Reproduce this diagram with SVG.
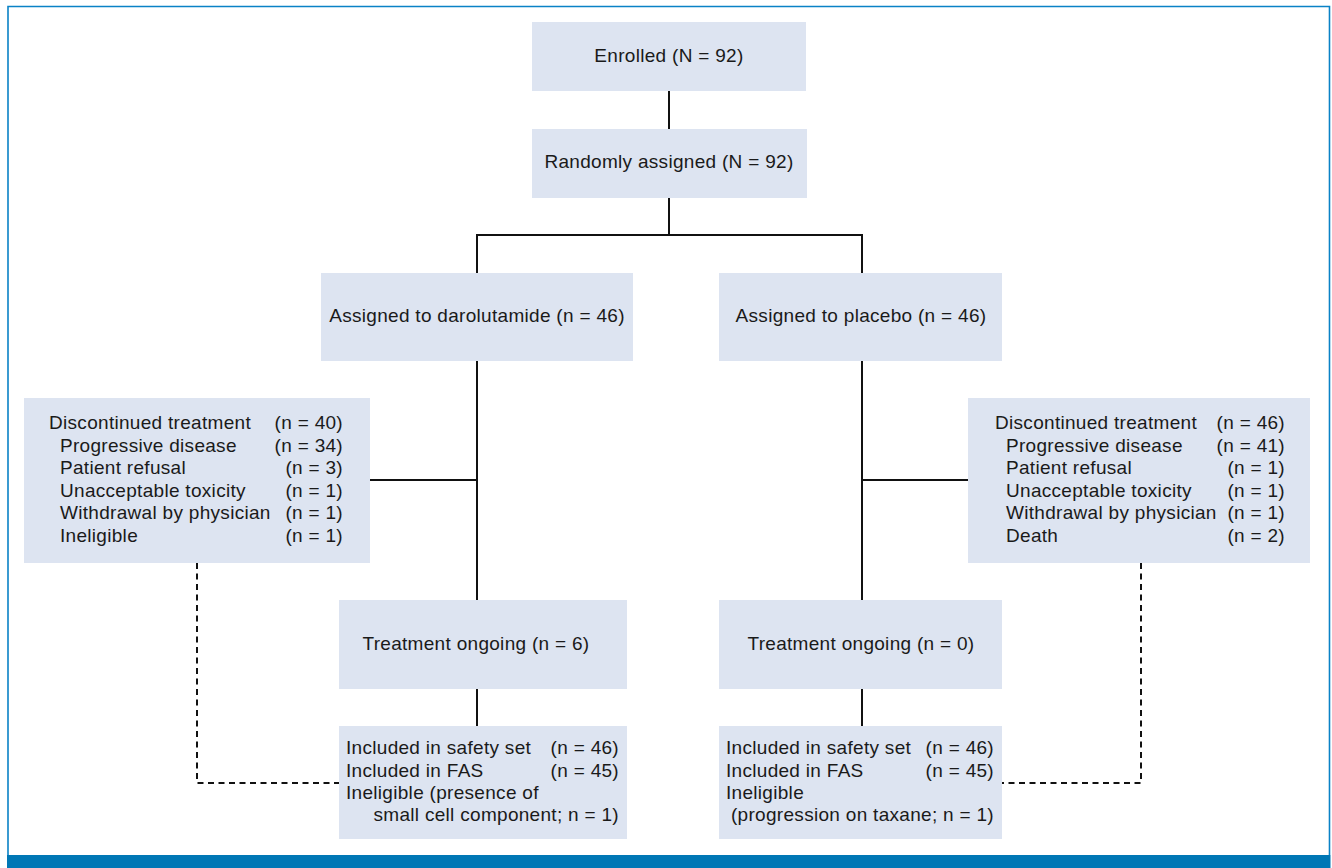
<svg xmlns="http://www.w3.org/2000/svg" width="1332" height="868" viewBox="0 0 1332 868">
<style>
.box{fill:#dde4f1}
.t{font-family:"Liberation Sans",Arial,sans-serif;font-size:19px;letter-spacing:0.3px;fill:#1a1a1a}
.c{text-anchor:middle}
.e{text-anchor:end}
.ln{stroke:#111;stroke-width:2;fill:none}
.dash{stroke:#111;stroke-width:2;fill:none;stroke-dasharray:6 4.5}
</style>
<rect width="1332" height="868" fill="#fff"/>
<g id="frame">
<path d="M8 855 V6.5 H1329.5 V855" fill="none" stroke="#0a82c6" stroke-width="1.6"/>
<rect x="7" y="855" width="1323.5" height="13" fill="#0077b5"/>
</g>
<g id="connectors">
<path class="ln" d="M669 91 V129 M669 198 V235 M477 273 V235 H862 V273 M477 361 V600 M862 361 V600 M370 480 H477 M862 480 H968 M477 689 V726 M862 689 V726"/>
<path class="dash" d="M197 563 V783 H339 M1141 563 V783 H1002"/>
</g>
<g id="enrolled">
<rect class="box" x="532" y="22" width="274" height="69"/>
<text class="t c" x="669" y="62">Enrolled (N = 92)</text>
</g>
<g id="randomized">
<rect class="box" x="532" y="129" width="275" height="69"/>
<text class="t c" x="669" y="168">Randomly assigned (N = 92)</text>
</g>
<g id="arm-darolutamide">
<rect class="box" x="321" y="273" width="312" height="88"/>
<text class="t c" x="477" y="322">Assigned to darolutamide (n = 46)</text>
</g>
<g id="arm-placebo">
<rect class="box" x="719" y="273" width="283" height="88"/>
<text class="t c" x="861" y="322">Assigned to placebo (n = 46)</text>
</g>
<g id="disc-darolutamide">
<rect class="box" x="24" y="398" width="346" height="165"/>
<text class="t" x="49" y="429">Discontinued treatment</text>
<text class="t" x="60" y="452">Progressive disease</text>
<text class="t" x="60" y="474">Patient refusal</text>
<text class="t" x="60" y="497">Unacceptable toxicity</text>
<text class="t" x="60" y="519">Withdrawal by physician</text>
<text class="t" x="60" y="542">Ineligible</text>
<text class="t e" x="343" y="429">(n = 40)</text>
<text class="t e" x="343" y="452">(n = 34)</text>
<text class="t e" x="343" y="474">(n = 3)</text>
<text class="t e" x="343" y="497">(n = 1)</text>
<text class="t e" x="343" y="519">(n = 1)</text>
<text class="t e" x="343" y="542">(n = 1)</text>
</g>
<g id="disc-placebo">
<rect class="box" x="968" y="398" width="342" height="165"/>
<text class="t" x="995" y="429">Discontinued treatment</text>
<text class="t" x="1006" y="452">Progressive disease</text>
<text class="t" x="1006" y="474">Patient refusal</text>
<text class="t" x="1006" y="497">Unacceptable toxicity</text>
<text class="t" x="1006" y="519">Withdrawal by physician</text>
<text class="t" x="1006" y="542">Death</text>
<text class="t e" x="1285" y="429">(n = 46)</text>
<text class="t e" x="1285" y="452">(n = 41)</text>
<text class="t e" x="1285" y="474">(n = 1)</text>
<text class="t e" x="1285" y="497">(n = 1)</text>
<text class="t e" x="1285" y="519">(n = 1)</text>
<text class="t e" x="1285" y="542">(n = 2)</text>
</g>
<g id="ongoing-darolutamide">
<rect class="box" x="339" y="600" width="288" height="89"/>
<text class="t c" x="476" y="650">Treatment ongoing (n = 6)</text>
</g>
<g id="ongoing-placebo">
<rect class="box" x="719" y="600" width="283" height="89"/>
<text class="t c" x="861" y="650">Treatment ongoing (n = 0)</text>
</g>
<g id="analysis-darolutamide">
<rect class="box" x="339" y="726" width="288" height="113"/>
<text class="t" x="346" y="754">Included in safety set</text>
<text class="t" x="346" y="777">Included in FAS</text>
<text class="t" x="346" y="799">Ineligible (presence of</text>
<text class="t e" x="619" y="821">small cell component; n = 1)</text>
<text class="t e" x="619" y="754">(n = 46)</text>
<text class="t e" x="619" y="777">(n = 45)</text>
</g>
<g id="analysis-placebo">
<rect class="box" x="719" y="726" width="283" height="113"/>
<text class="t" x="726" y="754">Included in safety set</text>
<text class="t" x="726" y="777">Included in FAS</text>
<text class="t" x="726" y="799">Ineligible</text>
<text class="t e" x="994" y="821">(progression on taxane; n = 1)</text>
<text class="t e" x="994" y="754">(n = 46)</text>
<text class="t e" x="994" y="777">(n = 45)</text>
</g>
</svg>
